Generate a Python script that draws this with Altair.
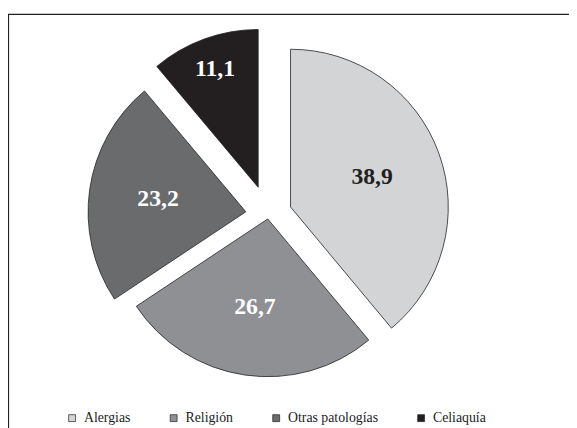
import math
import altair as alt
import pandas as pd

categorias = ["Alergias", "Religión", "Otras patologías", "Celiaquía"]
valores = [38.9, 26.7, 23.2, 11.1]
etiquetas = ["38,9", "26,7", "23,2", "11,1"]
colores = ["#d3d4d6", "#8f9093", "#6a6b6d", "#231f20"]

# style: per-slice explosion distance and label distance (pixels)
explosion = [24, 4, 23, 30]
radio_etiqueta = [88, 90, 90, 128]

CX, CY, R = 264, 207, 160
FUENTE = "Liberation Serif"

df = pd.DataFrame({
    "categoria": categorias,
    "valor": valores,
    "etiqueta": etiquetas,
    "orden": list(range(len(categorias))),
    "explode": explosion,
    "lr": radio_etiqueta,
})

base = alt.Chart(df).transform_window(
    cum="sum(valor)", sort=[alt.SortField("orden", order="ascending")]
).transform_joinaggregate(
    total="sum(valor)"
).transform_calculate(
    f0="(datum.cum - datum.valor) / datum.total",
    f1="datum.cum / datum.total",
    mid="2 * PI * (datum.cum - datum.valor / 2) / datum.total",
    px=f"{CX} + datum.explode * sin(datum.mid)",
    py=f"{CY} - datum.explode * cos(datum.mid)",
    lx=f"{CX} + (datum.explode + datum.lr) * sin(datum.mid)",
    ly=f"{CY} - (datum.explode + datum.lr) * cos(datum.mid)",
)

arcs = base.mark_arc(stroke="#222222", strokeWidth=0.8, radius=R).encode(
    theta=alt.Theta("f0:Q", scale=alt.Scale(domain=[0, 1], range=[0, 2 * math.pi])),
    theta2="f1:Q",
    x=alt.X("px:Q", scale=None),
    y=alt.Y("py:Q", scale=None),
    color=alt.Color(
        "categoria:N",
        scale=alt.Scale(domain=categorias, range=colores),
        sort=categorias,
        legend=alt.Legend(
            orient="none",
            legendX=58,
            legendY=406,
            direction="horizontal",
            columns=4,
            title=None,
            symbolType="square",
            symbolSize=49,
            symbolStrokeColor="#222222",
            symbolStrokeWidth=0.7,
            labelFont=FUENTE,
            labelFontSize=14,
            labelColor="#222222",
            labelOffset=5,
            columnPadding=36,
        ),
    ),
)

texts = base.mark_text(
    font=FUENTE, fontSize=24, fontWeight="bold",
    align="center", baseline="middle",
).encode(
    x=alt.X("lx:Q", scale=None),
    y=alt.Y("ly:Q", scale=None),
    text="etiqueta:N",
    color=alt.condition("datum.orden == 0", alt.value("#231f20"), alt.value("white")),
)

frame = alt.Chart(pd.DataFrame({"a": [0]})).mark_rect(
    fillOpacity=0, stroke="#222222", strokeWidth=1.2
).encode(
    x=alt.value(0.5), x2=alt.value(900), y=alt.value(3.5), y2=alt.value(900)
)

chart = alt.layer(frame, arcs, texts).properties(
    width=569, height=420, padding=0,
    autosize=alt.AutoSizeParams(type="none"),
).configure_view(strokeWidth=0)

chart.save("out.html", embed_options={"renderer": "svg", "actions": False})
